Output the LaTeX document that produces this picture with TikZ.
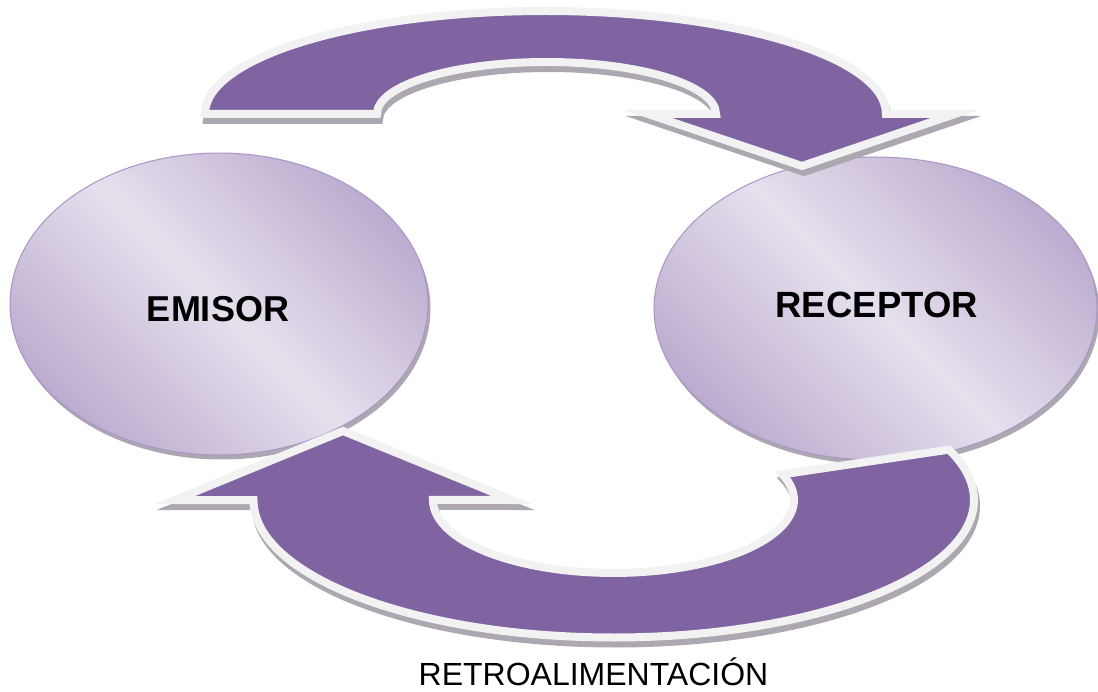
\documentclass[tikz,border=0pt]{standalone}
\usepackage{fontspec}
\setmainfont{Liberation Sans}
\usetikzlibrary{shapes.geometric,shadows}
\definecolor{arrowpurple}{HTML}{8064A2}
\definecolor{rimgray}{HTML}{F2F2F2}
\definecolor{shadowgray}{HTML}{ACA7B0}
\definecolor{ovaldark}{HTML}{BCADD0}
\definecolor{ovallight}{HTML}{E6E0ED}
\definecolor{ovalline}{HTML}{A896C5}
\def\toparrowpath{(205,114) arc[start angle=180,end angle=360,x radius=340.5,y radius=103] -- (955,114) -- (802,166) -- (648,114) -- (716,114) arc[start angle=0,end angle=-180,x radius=169.5,y radius=52] -- cycle}
\def\botarrowpath{(253.5,500) arc[start angle=180,end angle=-21.5,x radius=360.25,y radius=137.5] -- (782.5,474.4) arc[start angle=-20.5,end angle=180,x radius=180.5,y radius=73] -- (512,500) -- (343,431) -- (175,500) -- cycle}
\tikzset{
  oval/.style={ellipse, inner sep=0pt, draw=ovalline, line width=1pt,
    top color=ovaldark, bottom color=ovaldark, middle color=ovallight, shading angle=-45,
    drop shadow={shadow xshift=2.5pt, shadow yshift=-4.5pt, fill=shadowgray, opacity=1}},
  blockshadow/.style={fill=shadowgray, draw=shadowgray, line width=8pt},
  blockarrow/.style={fill=arrowpurple, draw=rimgray, line width=8pt, line join=miter},
  bigword/.style={anchor=base, font=\bfseries\fontsize{36}{40}\selectfont},
  smallword/.style={anchor=base, font=\fontsize{32}{36}\selectfont}
}
\begin{document}
\begin{tikzpicture}[x=1pt,y=-1pt]
\useasboundingbox (0,0) rectangle (1098,692);
% ovals
\node[oval, minimum width=418pt, minimum height=302pt] (emisor) at (219,304) {};
\node[oval, minimum width=443pt, minimum height=303pt] (receptor) at (875.5,308.5) {};
\node[bigword] (emisorlabel) at (218,322) {EMISOR};
\node[bigword, font=\bfseries\fontsize{36.5}{40}\selectfont] (receptorlabel) at (876.7,318) {RECEPTOR};
% top arrow
\path[blockshadow, shift={(2,6)}] \toparrowpath;
\path[blockarrow] \toparrowpath;
% bottom arrow
\path[blockshadow, shift={(2,6)}] \botarrowpath;
\path[blockarrow] \botarrowpath;
\node[smallword] (feedback) at (593.5,685) {RETROALIMENTACIÓN};
\end{tikzpicture}
\end{document}
